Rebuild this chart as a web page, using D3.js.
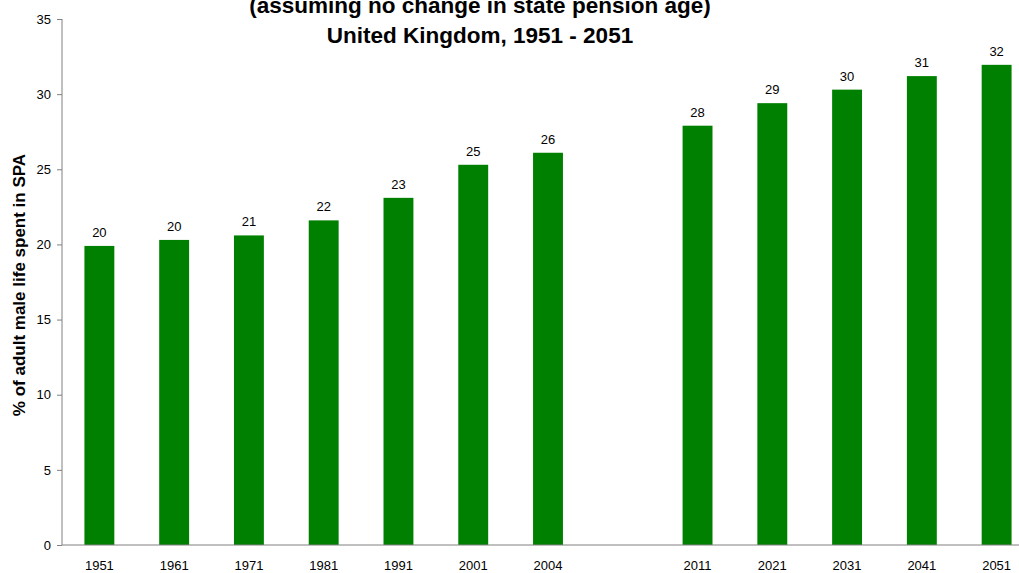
<!DOCTYPE html>
<html>
<head>
<meta charset="utf-8">
<script src="https://cdn.jsdelivr.net/npm/d3@7"></script>
<style>
  html, body { margin: 0; padding: 0; background: #fff; overflow: hidden; }
  svg { display: block; font-family: 'Liberation Sans', Arial, sans-serif; }
</style>
</head>
<body>
<div id="chart"></div>
<script>
// ── Data ────────────────────────────────────────────
const years = ['1951', '1961', '1971', '1981', '1991', '2001', '2004', '', '2011', '2021', '2031', '2041', '2051'];
const shares = [19.9, 20.3, 20.6, 21.6, 23.1, 25.3, 26.1, null, 27.9, 29.4, 30.3, 31.2, 31.95];
const yTicks = [0, 5, 10, 15, 20, 25, 30, 35];
const titleLines = ['(assuming no change in state pension age)', 'United Kingdom, 1951 - 2051'];
const yLabel = '% of adult male life spent in SPA';

const width = 1019, height = 573;
const margin = { top: 19, right: -15, bottom: 28, left: 62 };
const W = width - margin.left - margin.right;
const H = height - margin.top - margin.bottom;

const svg = d3.select('#chart').append('svg')
  .attr('width', width)
  .attr('height', height);

const g = svg.append('g').attr('transform', `translate(${margin.left},${margin.top})`);

// keep empty slot by giving it a unique key
const keys = years.map((y, i) => y || `gap${i}`);
const data = keys.map((k, i) => ({ key: k, label: years[i], value: shares[i] }));

const x = d3.scaleBand().domain(keys).range([0, W]).paddingInner(0.6).paddingOuter(0.3);
const y = d3.scaleLinear().domain([0, 35]).range([H, 0]);

// Bars
g.selectAll('.bar')
  .data(data.filter(d => d.value != null))
  .enter().append('rect')
  .attr('class', 'bar')
  .attr('x', d => x(d.key))
  .attr('y', d => y(d.value))
  .attr('width', x.bandwidth())
  .attr('height', d => H - y(d.value))
  .attr('fill', '#008000');

// Value labels
g.selectAll('.val')
  .data(data.filter(d => d.value != null))
  .enter().append('text')
  .attr('class', 'val')
  .attr('x', d => x(d.key) + x.bandwidth() / 2)
  .attr('y', d => y(d.value) - 9)
  .attr('text-anchor', 'middle')
  .attr('font-size', '13px')
  .attr('fill', '#000')
  .text(d => Math.round(d.value));

// Y axis
const yAxisG = g.append('g')
  .call(d3.axisLeft(y).tickValues(yTicks).tickSize(5).tickPadding(6));
yAxisG.select('path').attr('stroke', '#808080').attr('d', `M0,${H}V0`);
yAxisG.selectAll('line').attr('stroke', '#808080');
yAxisG.selectAll('text').attr('font-size', '13px').attr('fill', '#000').attr('font-family', "'Liberation Sans', Arial, sans-serif");

// X axis
const xAxisG = g.append('g')
  .attr('transform', `translate(0,${H})`)
  .call(d3.axisBottom(x).tickSize(0).tickPadding(16).tickFormat((k, i) => years[i]));
xAxisG.select('path').attr('stroke', '#808080').attr('d', `M0,0H${W}`);
xAxisG.selectAll('text').attr('font-size', '13px').attr('fill', '#000').attr('font-family', "'Liberation Sans', Arial, sans-serif");

// Y axis title
svg.append('text')
  .attr('transform', `translate(25,285) rotate(-90)`)
  .attr('text-anchor', 'middle')
  .attr('font-size', '17px')
  .attr('font-weight', 'bold')
  .text(yLabel);

// Title
svg.selectAll('.title')
  .data(titleLines)
  .enter().append('text')
  .attr('class', 'title')
  .attr('x', 480)
  .attr('y', (d, i) => 13 + i * 30)
  .attr('text-anchor', 'middle')
  .attr('font-size', '22.5px')
  .attr('font-weight', 'bold')
  .text(d => d);
</script>
</body>
</html>
